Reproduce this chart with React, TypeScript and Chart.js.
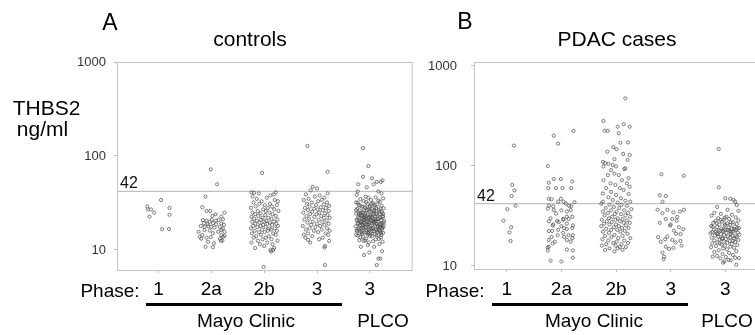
import React, { useEffect, useRef } from "react";
import { Chart, registerables } from "chart.js";

Chart.register(...registerables);

const FONT = "'Liberation Sans', Arial, Helvetica, sans-serif";
Chart.defaults.font.family = FONT;

// ---------- data ----------
const phaseLabels = ["1", "2a", "2b", "3", "3"];
const yTickValues = [10, 100, 1000];
const cutoff = 42;

// each point: [THBS2 ng/ml, horizontal jitter in 1/100 of a category]
// Panel A – controls
const ctrlPhase1 = [
  [34, 5], [29, -21], [27, -20], [27, -14], [25, -8], [22.6, -17], [28, 21], [23.7, 21], [16.6, 7], [16.7, 20],
];
const ctrlPhase2a = [
  [72, -1], [50, 11], [37, -11], [28.5, -17], [26, -9], [26, -2], [24, 8], [25, 25], [23, 2], [22.7, 19],
  [21.2, 22], [20.8, 14], [20.8, -16], [20.5, -9], [19.2, -14], [20, -3], [19.3, 3], [18.8, 9], [19.2, 19], [18.5, 24],
  [18, -20], [17.9, -6], [17.6, 0], [17.3, 6], [17.6, 16], [16.9, 22], [15.6, -24], [16.3, -13], [16.1, -3], [15.6, 13],
  [15.6, 25], [14.4, -17], [15.1, 3], [14.4, 19], [14.1, 25], [13.8, -22], [13.5, -9], [13.7, -1], [13.2, 16], [13.8, 22],
  [13.2, -19], [12.5, 18], [12.2, -6], [11.8, 5], [12.6, 21], [10.8, -11], [10.7, 3], [18.8, -7], [20.5, 9], [21, 1],
  [17.6, -13], [16.3, 19],
];
const ctrlPhase2b = [
  [66, -4], [6.6, -1],
  [41, -24], [40.5, -19], [40, -10], [39, 18], [41, 22], [38, 12], [37, -22], [36, 5], [35, -14], [34, 20], [33, -5],
  [33, 26], [32, -20], [31, 11], [31, -9], [30, 1], [30, 24], [29, -16], [29, 15], [28, -25], [28, 7], [27, -2], [27, 19],
  [26, -12], [26, 27], [26, 3],
  [25, -22], [25, 10], [24.5, -7], [24, 16], [24, -17], [23.5, 2], [23, 22], [23, -11], [22.5, -24], [22, 8], [22, -3],
  [21.5, 14], [21.5, -19], [21, 25], [21, -6], [20.5, 4], [20.5, -14], [20, 19], [20, -23], [20, 0], [19.5, 11], [19.5, -9],
  [19, -17], [19, 23], [19, 6], [18.5, -2], [18.5, 15], [18, -21], [18, -7], [18, 26], [17.5, 3], [17.5, -13], [17, 10],
  [17, -25], [17, 20], [16.5, -4], [16.5, 13], [16, -18], [16, 7], [16, 24], [15.5, -10], [15.5, 1], [15, 17], [15, -23],
  [14.5, -6], [14.5, 22], [14, 9], [14, -15], [13.5, -20], [13.5, 3], [13, 14], [13, -3], [12.5, 25], [12.5, -12], [12, -24],
  [12, 6], [11.5, 16], [11.5, -8], [11, 0], [10.5, 19], [10.5, -17], [10, 12], [10, 17], [9.6, 13],
];
const ctrlPhase3 = [
  [128, -18], [68, 20], [47, -8], [45, 0], [43, -12], [40, 20], [39, -21], [38, 5], [37, -4], [36, 14], [35, -16], [34, 9],
  [34, -25], [33, 2], [32, 19], [32, -10], [31, -19], [30.5, 13], [30, -2], [29.5, 23], [29, -14], [28.5, 7], [28, -23],
  [28, 17], [27.5, -6], [27, 1], [26.5, 11], [26.5, -17], [26, 22], [25.5, -9], [25, 4], [25, -26], [24.5, 15], [24, -13],
  [24, -1], [23.5, 20], [23, 8], [23, -20], [22.5, -5], [22, 13], [22, 24], [21.5, -15], [21, 3], [21, -24], [20.5, 18],
  [20, -8], [20, 10], [19.5, -18], [19, 0], [19, 22], [18.5, -11], [18.5, 14], [18, -27], [18, 6], [17.5, -3], [17, 19],
  [17, -14], [16.5, 9], [16.5, -21], [16, 24], [16, -6], [15.5, 2], [15, -17], [15, 16], [14.5, -25], [14.5, 21], [14, -9],
  [13.5, 11], [13.5, -22], [13, 4], [12.8, -17], [12.5, 23], [12, -13], [11, 15], [10.6, 14], [6.9, 15],
];
const ctrlPLCO = [
  [121, -13], [78, -3], [60, -13], [58, 4], [53, 13], [55, 24], [53, 21], [50, -22], [46.5, -6], [50, 7], [42, -23], [42, 16], [40, 22],
  [12.5, -12], [11.3, -4], [8.85, -11], [9.4, -1], [8.1, 16], [8.1, 20], [6.9, 13], [9.7, 23], [10.8, -17], [10.8, 8], [12.2, 24],
  [38.5, -25], [37, -8], [36.2, 11], [35.4, 25], [34.8, -18], [34, 2], [33.2, -12], [32.7, 19], [32.1, -26], [31.5, 6], [31, -4],
  [30.6, 14], [30.1, -21], [29.7, 22], [29.3, 0], [28.9, -15], [28.5, 9], [28.1, -9], [27.8, 26], [27.4, -24], [27.1, 4],
  [26.8, 17], [26.5, -6], [26.2, -19], [25.9, 12], [25.6, -1], [25.3, 23], [25, -13], [24.7, 7], [24.4, -26], [24.1, 19],
  [23.9, -4], [23.6, -17], [23.3, 1], [23.1, 14], [22.8, -10], [22.6, 25], [22.3, -22], [22.1, 5], [21.9, -2], [21.6, 18],
  [21.4, -14], [21.2, 10], [21, -25], [20.8, 21], [20.6, -7], [20.4, 3], [20.2, -18], [20, 15], [19.8, -1], [19.6, 26],
  [19.4, -11], [19.2, 8], [19, -23], [18.8, 12], [18.6, -5], [18.4, 20], [18.2, -16], [18, 1], [17.8, -27], [17.6, 16],
  [17.4, -8], [17.2, 6], [17, -20], [16.8, 23], [16.6, -3], [16.4, 11], [16.2, -14], [16, -24], [15.8, 19], [15.6, 2],
  [15.4, -10], [15.2, 25], [15, -19], [14.8, 9], [14.6, -4], [14.4, 16], [14.2, -23], [14, 4], [13.8, -13], [13.5, 21],
  [13.2, -7], [13, 11], [12.7, -20], [12.4, 6], [12, -2], [11.6, 18],
  [36, -3], [33.5, 16], [31.8, -23], [30.3, 9], [29, -10], [27.6, 20], [26.6, -26], [25.8, 3], [24.9, -17], [24.2, 13],
  [23.4, -8], [22.9, 24], [22.4, -1], [21.8, -20], [21.3, 15], [20.9, -11], [20.5, 27], [20.1, -5], [19.7, 7], [19.3, -22],
  [18.9, 19], [18.5, -13], [18.1, 10], [17.7, -2], [17.3, 23], [16.9, -16], [16.5, 5], [16.1, -25], [15.7, 14], [15.3, -7],
  [14.9, -15], [14.5, 22], [14.1, 0], [13.6, -18], [13.1, 17], [12.6, -9], [21.5, -6], [22.7, 10], [19.9, -15], [18.3, 26],
  [17.1, -12], [23.7, -20], [26, 8], [28.3, -1], [16.3, 17], [15.1, -3], [20.7, 1], [24.5, -9],
  [27.9, 12], [26.4, -11], [25.2, 18], [24.6, -21], [23.8, 6], [23.2, -14], [22.6, 2], [22.2, 20], [21.7, -9], [21.1, 7],
  [20.6, -24], [20.3, 12], [19.8, -17], [19.5, 4], [19.1, 23], [18.7, -2], [18.4, -19], [18, 15], [17.7, -10], [17.4, 25],
  [17, 3], [16.7, -22], [16.4, 14], [16.1, -6], [15.8, 8], [15.5, -16], [15.2, 21], [14.9, 1], [14.6, -26], [14.3, 12],
  [29.6, -18], [30.8, 3], [32.4, -7], [26.9, -3], [24.3, 25], [22, -12], [20.2, 9], [18.9, -8], [17.5, 19], [16.2, -1],
];

// Panel B – PDAC cases
const casePhase1 = [
  [160, 13], [64.6, 10], [57, 14], [50, 9], [40, 16], [37, 1], [28.4, -6], [24.4, 8], [21.7, 5], [17.8, 7],
];
const casePhase2a = [
  [201, -14], [224, 22], [167, -6], [100, -25], [74, -14], [74, -1], [70, 20], [68, -23], [60, -10], [60, 2], [60, 18],
  [60, -24], [47, -23], [46.5, -18], [47, -1], [44, -6], [44, 4], [42, 8], [43.5, 24], [40, 14], [40, -23], [39.5, -15],
  [39.5, 18], [37.6, -25], [36, 0], [35, 10], [33.5, -10], [30, -20], [29.5, 3], [31, 10], [31, 20], [28, -23], [28.2, -8],
  [29, 4], [29.5, 13], [26, -15], [26.5, 10], [25.4, 21], [25, 0], [22.4, -23], [22.4, -17], [23, -6], [23.4, 10], [24, 20],
  [21.5, 3], [20.3, 13], [20.3, 21], [19.5, -18], [18.2, -23], [17.5, -12], [18.2, 10], [19, 20], [17.5, 17], [15.6, -23],
  [15.3, -25], [14.3, -25], [14.6, 10], [14.3, 21], [12.1, 21], [11.3, -20], [11.1, 0], [16.8, -16], [20.3, -7], [19.5, 5],
  [27.5, -5], [36.3, -14], [36.3, 17], [24, 5], [25.4, -16],
];
const casePhase2b = [
  [475, 17], [282, -23], [225, -21], [225, -15], [247, 3], [261, 14], [247, 25], [212, 5], [171, 8], [172, 22], [154, -5],
  [147, 1], [139, -16], [132, 13], [129, 25], [117, -3], [115, 21],
  [110, -24], [107, -20], [105, -14], [102, -6], [99, 0], [99, -23], [93, 15], [95, 17], [91, -9], [84, -3], [81, -15],
  [75.5, 23], [81, 5], [72, 11], [72, -23], [67, -10], [64.5, -1], [67, 20], [62, 25], [60, -18], [60, 7], [55, -9],
  [57.5, 14], [53, -24], [51.3, 0], [52.5, 23], [48.6, -14], [47.5, 9], [45.7, -6], [45, 17], [44, -24], [44, 26], [43, 3],
  [42, -27], [41, -12], [41, 10], [40, 20], [39, -4], [38, -19], [38, 6], [37, 28], [36, -9], [36, 15], [35, -24], [35, 1],
  [34, -15], [34, 22], [33, -2], [33, 9], [32, -21], [32, 17], [31, -7], [31, 26], [30, 3], [30, -13], [29.5, 12], [29, -26],
  [29, -1], [28.5, 20], [28, -17], [28, 7], [27.5, -8], [27, 14], [27, 25], [26.5, -22], [26, 0], [26, -12], [25.5, 18],
  [25, 5], [25, -27], [24.5, -4], [24, 11], [24, 23], [23.5, -18], [23, -9], [23, 2], [22.5, 16], [22, -24],
  [22, 8], [21.5, -13], [21, 21], [20.5, -3], [20, -20], [20, 12], [19.5, -8], [19, 4], [19, 26], [18.5, -25], [18, -14],
  [18, 15], [17.5, 1], [17, -5], [17, 22], [16.5, -18], [16.5, 10], [16, -26], [16, -1], [15.5, 7], [15.5, 18], [15, -12],
  [15, 3], [14.5, -20], [14.5, 12], [14, -3],
];
const casePhase3 = [
  [82.6, -17], [80, 24], [51, -20], [50, -9], [44, -15], [36.5, -24], [36.5, -6], [34.4, 5], [35, 17], [36.5, 24], [33.7, -15],
  [29.5, -9], [29.5, 3], [28.4, 11], [25.3, -1], [24.4, 15], [23.3, 23], [22.6, 6], [20.9, 18], [19.4, -23], [19.7, -6],
  [18.2, 3], [17.2, 9], [17.8, 18], [17.5, -18], [15.6, -9], [14.8, -3], [15.2, 5], [13.6, -15], [12.4, -12], [11.7, -13],
  [31, 12], [27, -20], [21, 10], [18.5, -10], [16, 20], [26, 0],
];
const casePLCO = [
  [148, -12], [61, -12], [47.5, 0], [47, 9], [45.7, 15], [44, 18], [40.7, 21], [38.9, -15], [36.5, 4], [35.6, 24],
  [10.8, -4], [10.3, 20], [12.1, 18], [12, 25], [11.4, 10], [12.4, -23],
  [34, -20], [33.2, -8], [32.5, 12], [31.8, -25], [31.2, 2], [30.6, 19], [30, -13], [29.5, 7], [29, -3], [28.6, 24],
  [28.2, -18], [27.8, -6], [27.4, 14], [27, -22], [26.7, 3], [26.3, 21], [26, -11], [25.7, 9], [25.4, -1], [25.1, -26],
  [24.8, 17], [24.5, -15], [24.2, 6], [24, 25], [23.7, -7], [23.5, 12], [23.2, -21], [23, 0], [22.8, 19], [22.6, -12],
  [22.4, 8], [22.2, -4], [22, 15], [21.8, -24], [21.6, 23], [21.4, 2], [21.2, -16], [21, 10], [20.8, -8], [20.6, 26],
  [20.4, -2], [20.2, -19], [20, 13], [19.8, 5], [19.6, -13], [19.4, 21], [19.2, -25], [19, -5], [18.8, 16], [18.6, 1],
  [18.4, -10], [18.2, 24], [18, -20], [17.8, 8], [17.6, -2], [17.4, 18], [17.2, -15], [17, 4], [16.8, -24], [16.6, 12],
  [16.4, -7], [16.2, 22], [16, -1], [15.8, -17], [15.6, 9], [15.4, -26], [15.2, 16], [15, -4], [14.7, 3], [14.4, -12],
  [14.1, 20], [13.8, -20], [13.5, 7], [13.2, -5], [12.9, 14], [12.6, -15], [12.3, 1], [11.9, -9], [11.5, 6], [11.1, -2],
  [23.1, -3], [22.9, 5], [22.5, -9], [23.3, 16], [22.1, -17], [23.8, 22], [24.7, -23], [21.9, 11], [20.7, -14], [19.9, 19],
  [25.9, 0], [27.2, 10], [28.9, -9], [18.7, -6], [17.9, 14], [26.9, -16], [30.4, -1], [21.3, -27], [19.3, 9], [16.9, -10],
];

const controlsGroups = [ctrlPhase1, ctrlPhase2a, ctrlPhase2b, ctrlPhase3, ctrlPLCO];
const casesGroups = [casePhase1, casePhase2a, casePhase2b, casePhase3, casePLCO];

function buildPoints(groups: number[][][]) {
  const out: { x: number; y: number }[] = [];
  groups.forEach((g, i) => {
    g.forEach(([v, j]) => out.push({ x: i + 1 + j / 100, y: v }));
  });
  return out;
}

const framePlugin = {
  id: "frame",
  beforeDatasetsDraw(chart: any) {
    const { ctx, chartArea } = chart;
    ctx.save();
    ctx.strokeStyle = "#c4c4c4";
    ctx.lineWidth = 1;
    ctx.strokeRect(chartArea.left + 0.5, chartArea.top + 0.5, chartArea.right - chartArea.left - 1, chartArea.bottom - chartArea.top);
    ctx.restore();
  },
  afterDatasetsDraw(chart: any) {
    const { ctx, chartArea, scales } = chart;
    const y = scales.y.getPixelForValue(cutoff);
    ctx.save();
    ctx.fillStyle = "#111";
    ctx.font = `16px ${FONT}`;
    ctx.textAlign = "left";
    ctx.textBaseline = "alphabetic";
    ctx.fillText(String(cutoff), chartArea.left + 3, y - 3);
    ctx.restore();
  },
};

type PanelProps = {
  left: number;
  width: number;
  groups: number[][][];
  xMin: number;
  xMax: number;
  yMin: number;
  yMax: number;
  yAxisWidth: number;
  xAxisHeight: number;
  padRight: number;
  yLabelPad: number;
  xLabelPad: number;
};

function Panel(p: PanelProps) {
  const ref = useRef<HTMLCanvasElement>(null);
  useEffect(() => {
    const chart = new Chart(ref.current as HTMLCanvasElement, {
      type: "scatter",
      data: {
        datasets: [
          {
            data: buildPoints(p.groups),
            pointRadius: 1.6,
            pointHoverRadius: 1.6,
            pointBorderWidth: 0.7,
            pointBorderColor: "#484848",
            pointBackgroundColor: "rgba(255,255,255,0)",
            borderColor: "#484848",
            backgroundColor: "rgba(255,255,255,0)",
          } as any,
          {
            data: [
              { x: p.xMin, y: cutoff },
              { x: p.xMax, y: cutoff },
            ],
            showLine: true,
            pointRadius: 0,
            borderColor: "#c0c0c0",
            borderWidth: 1.3,
          } as any,
        ],
      },
      options: {
        responsive: false,
        animation: false,
        events: [],
        layout: { padding: { left: 0, top: 62, right: p.padRight, bottom: 0 } },
        plugins: { legend: { display: false }, tooltip: { enabled: false }, title: { display: false } },
        scales: {
          x: {
            type: "linear",
            min: p.xMin,
            max: p.xMax,
            bounds: "data",
            afterBuildTicks: (s: any) => {
              s.ticks = phaseLabels.map((_, i) => ({ value: i + 1 }));
            },
            afterFit: (s: any) => {
              s.height = p.xAxisHeight;
            },
            ticks: {
              autoSkip: false,
              maxRotation: 0,
              padding: p.xLabelPad,
              color: "#000",
              font: { size: 19, family: FONT },
              callback: (_v: any, i: number) => phaseLabels[i],
            },
            grid: { display: true, drawOnChartArea: false, drawTicks: true, tickLength: 3, color: "#b8b8b8" },
            border: { display: false },
          },
          y: {
            type: "logarithmic",
            min: p.yMin,
            max: p.yMax,
            bounds: "data",
            afterBuildTicks: (s: any) => {
              s.ticks = yTickValues.map((v) => ({ value: v }));
            },
            afterFit: (s: any) => {
              s.width = p.yAxisWidth;
            },
            ticks: {
              padding: p.yLabelPad,
              color: "#333",
              font: { size: 13, family: FONT },
              callback: (v: any) => String(v),
            },
            grid: { display: true, drawOnChartArea: false, drawTicks: true, tickLength: 3, color: "#b8b8b8" },
            border: { display: false },
          },
        },
      } as any,
      plugins: [framePlugin],
    });
    return () => chart.destroy();
  }, []);
  return (
    <canvas
      ref={ref}
      width={p.width}
      height={335}
      style={{ position: "absolute", left: p.left, top: 0, width: p.width, height: 335, display: "block" }}
    />
  );
}

function Label(props: { x: number; y: number; size: number; text: string }) {
  return (
    <div
      style={{
        position: "absolute",
        left: props.x,
        top: props.y,
        transform: "translate(-50%, -50%)",
        fontSize: props.size,
        lineHeight: 1,
        whiteSpace: "nowrap",
        color: "#000",
        fontFamily: FONT,
      }}
    >
      {props.text}
    </div>
  );
}

function Bar(props: { x: number; y: number; w: number }) {
  return (
    <div style={{ position: "absolute", left: props.x, top: props.y, width: props.w, height: 3, background: "#000" }} />
  );
}

export default function App() {
  return (
    <div
      style={{
        position: "fixed",
        left: 0,
        top: 0,
        width: 755,
        height: 335,
        overflow: "hidden",
        background: "#fff",
        fontFamily: FONT,
      }}
    >
      <Panel
        left={0}
        width={420}
        groups={controlsGroups}
        xMin={0.216}
        xMax={5.81}
        yMin={6.12}
        yMax={1000}
        yAxisWidth={117}
        xAxisHeight={65}
        padRight={7.3}
        yLabelPad={8}
        xLabelPad={5.6}
      />
      <Panel
        left={420}
        width={420}
        groups={casesGroups}
        xMin={0.4}
        xMax={5.8}
        yMin={9.33}
        yMax={1096}
        yAxisWidth={54}
        xAxisHeight={66}
        padRight={71}
        yLabelPad={14}
        xLabelPad={6.6}
      />
      <Label x={110} y={22} size={23} text="A" />
      <Label x={250} y={38} size={21} text="controls" />
      <Label x={46.5} y={107} size={21} text="THBS2" />
      <Label x={42.5} y={128} size={21} text="ng/ml" />
      <Label x={110} y={290} size={19} text="Phase:" />
      <Bar x={146} y={302.5} w={196} />
      <Label x={246} y={320} size={19} text="Mayo Clinic" />
      <Label x={383} y={320} size={19} text="PLCO" />

      <Label x={465} y={21} size={23} text="B" />
      <Label x={617} y={38} size={21} text="PDAC cases" />
      <Label x={455} y={290} size={19} text="Phase:" />
      <Bar x={492} y={302.5} w={196} />
      <Label x={594} y={320} size={19} text="Mayo Clinic" />
      <Label x={727} y={320} size={19} text="PLCO" />
    </div>
  );
}
